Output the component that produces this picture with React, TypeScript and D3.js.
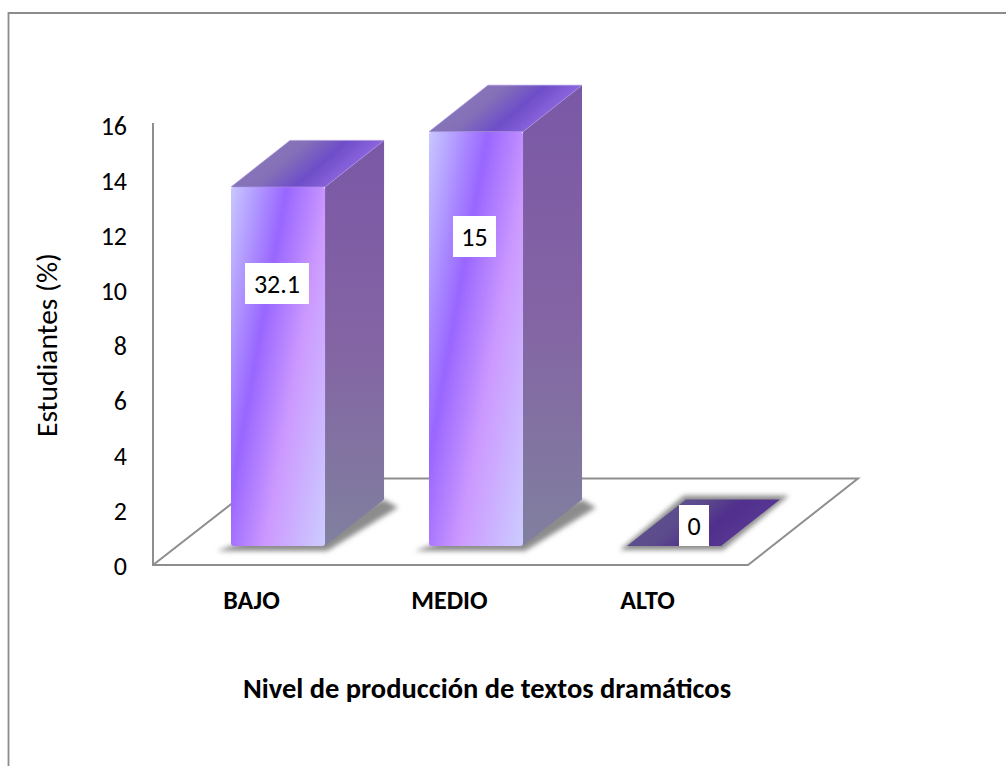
import React from "react";
import * as d3 from "d3";

const categories = ["BAJO", "MEDIO", "ALTO"];
const heights = [13, 15, 0];
const valueLabels = ["32.1", "15", "0"];
const yTicks = [0, 2, 4, 6, 8, 10, 12, 14, 16];

const W = 1006, H = 766;
const y0 = 565, yTop = 123;
const y = d3.scaleLinear().domain([0, 16]).range([y0, yTop]);
const yLabel = d3.scaleLinear().domain([0, 16]).range([575, 135]);
const x = d3.scaleBand<string>().domain(categories).range([153, 799]).paddingInner(0.525).paddingOuter(0.394);
const lift = 19;
const depth = { dx: 59, dy: -46.5 };
const nx = 0.984, ny = 0.178;
const pts = (p: [number, number][]) => p.map((d) => d.join(",")).join(" ");
const FONT = "Carlito, Calibri, 'Open Sans', 'Noto Sans', sans-serif";

export default function App() {
  return (
    <svg width={W} height={H} style={{ position: "absolute", left: 0, top: 0 }} fontFamily={FONT}>
      <defs>
        <filter id="blur" x="-30%" y="-30%" width="160%" height="160%"><feGaussianBlur stdDeviation="2.8" /></filter>
        <filter id="soft" x="-5%" y="-5%" width="110%" height="110%"><feGaussianBlur stdDeviation="0.7" /></filter>
      </defs>
      <rect x={0} y={0} width={W} height={H} fill="#fff" />
      <path d="M8.5,766 V13 H1006" fill="none" stroke="#8c8c8c" strokeWidth={1.8} />
      <path d={`M153,${yTop} V${y0} H748 L858,478.5 H264 L153,${y0}`} fill="none" stroke="#8e8e8e" strokeWidth={2} />
      {yTicks.map((t) => (
        <text key={t} x={127} y={yLabel(t)} textAnchor="end" fontSize={26} fill="#000">{t}</text>
      ))}
      <text transform="translate(57,345) rotate(-90)" textAnchor="middle" fontSize={29.5} fill="#000">Estudiantes (%)</text>
      {categories.map((c, i) => {
        const bw = x.bandwidth();
        const l = x(c)!;
        const r = l + bw;
        const b = y0 - lift;
        const t = b - (y(0) - y(heights[i]));
        const { dx, dy } = depth;
        const flat = heights[i] === 0;
        const span = bw * nx + (b - t) * ny;
        const gidF = `f${i}`, gidS = `s${i}`, gidT = `t${i}`;
        return (
          <g key={c}>
            <defs>
              <linearGradient id={gidF} gradientUnits="userSpaceOnUse" x1={l} y1={t} x2={l + nx * span} y2={t + ny * span}>
                <stop offset="0" stopColor="#c8c8ff" />
                <stop offset="0.35" stopColor="#9966ff" />
                <stop offset="0.62" stopColor="#cc99ff" />
                <stop offset="1" stopColor="#ccccff" />
              </linearGradient>
              <linearGradient id={gidS} x1="0" y1="0" x2="0" y2="1">
                <stop offset="0" stopColor="#7a58a6" />
                <stop offset="0.5" stopColor="#8464a4" />
                <stop offset="1" stopColor="#80809f" />
              </linearGradient>
              <linearGradient id={gidT} x1="0" y1="0" x2="1" y2="0.35">
                <stop offset="0" stopColor={flat ? "#5f5590" : "#8a7cb8"} />
                <stop offset="0.45" stopColor={flat ? "#5c4b8c" : "#8470b8"} />
                <stop offset="0.68" stopColor={flat ? "#50308c" : "#6e4ec8"} />
                <stop offset="1" stopColor={flat ? "#5a3898" : "#9a70e8"} />
              </linearGradient>
            </defs>
            <polygon
              points={pts(flat
                ? [[l - 7, b + 4], [r + 2, b + 4], [r + dx + 9, b + dy - 4], [l + dx - 2, b + dy - 4]]
                : [[l - 14, b + 5], [r + 2, b + 5], [r + dx + 14, b + dy + 8], [r + dx, b + dy], [l, b]])}
              fill="#8c8c8c"
              filter="url(#blur)"
            />
            {!flat && <rect x={l} y={t} width={bw} height={b - t} rx={3} fill={`url(#${gidF})`} filter="url(#soft)" />}
            {!flat && <polygon points={pts([[r, t], [r + dx, t + dy], [r + dx, b + dy], [r, b]])} fill={`url(#${gidS})`} />}
            <polygon points={pts([[l, t], [r, t], [r + dx, t + dy], [l + dx, t + dy]])} fill={`url(#${gidT})`} stroke={flat ? "none" : "#a890e0"} strokeWidth={0.6} strokeLinejoin="round" />
            <text x={l + 20.5} y={609} textAnchor="middle" fontSize={26} fontWeight={700} fill="#000">{c}</text>
          </g>
        );
      })}
      {[
        { w: 64, cx: 277, top: 263 },
        { w: 43, cx: 474.5, top: 216 },
        { w: 30, cx: 694, top: 505 },
      ].map((b, i) => (
        <g key={i}>
          <rect x={b.cx - b.w / 2} y={b.top} width={b.w} height={41} fill="#fff" />
          <text x={b.cx} y={b.top + 30} textAnchor="middle" fontSize={26} fill="#000">{valueLabels[i]}</text>
        </g>
      ))}
      <text x={487} y={698} textAnchor="middle" fontSize={28.5} fontWeight={700} fill="#000">Nivel de producción de textos dramáticos</text>
    </svg>
  );
}
